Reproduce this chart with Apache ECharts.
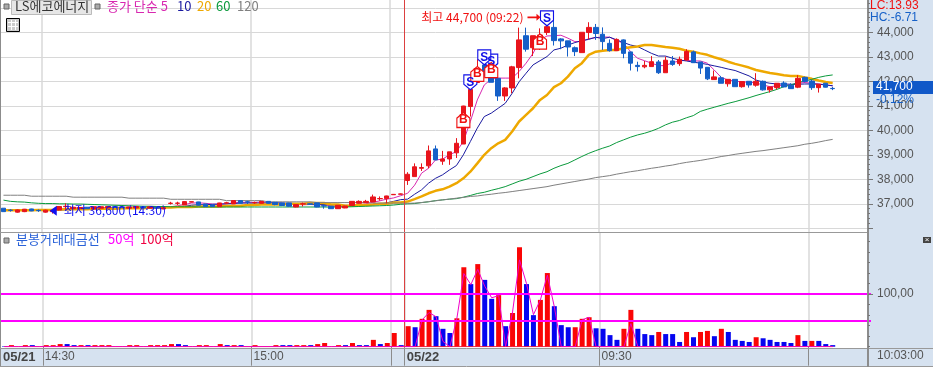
<!DOCTYPE html>
<html><head><meta charset="utf-8">
<style>html,body{margin:0;padding:0;background:#fff}#c{width:933px;height:368px}</style>
<script src="https://cdn.jsdelivr.net/npm/echarts@6/dist/echarts.min.js"></script>
</head><body><div id="c"></div>
<script>
// [open, close, low, high]
const candles = [
[36820,36680,36670,36820],[36740,36730,36680,36780],[36660,36750,36640,36770],[36680,36780,36660,36790],[36790,36710,36700,36800],
[36730,36720,36670,36770],[36660,36740,36640,36760],[36680,36730,36600,36750],[36750,36890,36730,36900],[36880,36900,36750,37020],
[36800,36860,36780,36900],[36800,36850,36780,36860],[36860,36800,36790,36870],[36790,36880,36780,36890],[36820,36880,36810,36890],
[36830,36890,36820,36900],[36880,36850,36840,36890],[36870,36840,36830,36880],[36820,36870,36810,36880],[36830,36890,36820,36900],
[36880,36830,36820,36890],[36820,36880,36810,36890],[36860,36820,36810,36870],[36790,36840,36780,36850],[37015,37025,36970,37080],
[37020,37030,36950,37085],[36955,37090,36950,37100],[37070,37085,37060,37095],[37076,36940,36930,37080],[36995,36885,36880,37000],
[36955,36885,36880,36960],[36885,37035,36880,37040],[37030,37040,36990,37080],[36995,37130,36990,37140],[37130,37020,37010,37140],
[37080,37070,36990,37130],[37040,37050,37000,37090],[37020,37100,37010,37110],[37100,37020,37010,37110],[37060,36970,36940,37070],
[37035,36930,36920,37040],[37035,36900,36890,37040],[36870,36970,36860,36980],[36990,37000,36890,37050],[37000,36980,36960,37020],
[37035,36870,36860,37040],[36920,36910,36800,36970],[36900,36800,36790,36910],[36800,36940,36790,36950],[36830,36910,36820,36920],
[36930,37100,36920,37110],[37020,37100,37010,37140],[37050,37100,37040,37160],[37075,37280,37070,37375],[37205,37215,37130,37300],
[37212,37320,37020,37330],[37370,37385,37360,37400],[37390,37405,37380,37420],
[37950,38206,37770,38290],[38110,38510,38110,38650],[38450,38480,38340,38650],[38550,39160,38450,39380],[39240,38790,38790,39380],
[38740,38830,38590,39160],[38830,39120,38590,39120],[39080,39470,38870,39680],[39440,40990,39440,41000],[40970,41670,40560,42050],
[41950,42530,41950,42900],[42670,42260,42200,42670],[42530,41960,41960,42600],[42120,41400,41200,42120],[41400,41730,41200,41760],
[41730,42590,41510,42630],[42560,43690,42120,44190],[43860,43310,43210,44190],[43370,43860,43030,43860],[43420,43890,43280,44160],
[43990,44230,43890,44700],[44200,43660,43460,44570],[43730,43650,43310,43760],[43650,43400,43010,43650],[43370,43210,43030,43420],
[43170,44000,43170,44000],[43990,44200,43710,44410],[44200,43950,43690,44340],[43920,43620,43280,44200],[43550,43250,43210,43710],
[43250,43710,43250,43750],[43690,43140,42940,43710],[43200,42740,42440,43200],[42650,42600,42400,42800],[42590,42650,42530,42830],
[42600,42800,42600,43030],[42790,42350,42300,42870],[42350,42860,42350,43010],[42830,42690,42630,43030],[42720,42900,42630,43010],
[42870,43220,42840,43310],[43200,42760,42760,43250],[42790,42540,42300,42790],[42570,42100,42050,42570],[42070,42180,42070,42440],
[42140,41920,41920,42220],[41900,42080,41780,42080],[42080,41780,41780,42080],[41780,41990,41740,41990],[42000,41850,41740,42000],
[41840,42000,41780,42330],[42000,41650,41620,42030],[41650,41770,41540,41770],[41740,41920,41670,41920],[41930,41770,41760,42000],
[41840,41700,41700,41920],[41760,42120,41720,42250],[42160,41990,41950,42190],[42010,41740,41650,42060],[41740,41880,41540,41880],
[41920,41760,41750,41930],[41710,41700,41640,41770]];

const ma5 = [
36740,36740,36730,36720,36730,36730,36720,36720,36760,36800,
36830,36840,36830,36830,36840,36850,36860,36860,36860,36860,
36860,36850,36850,36840,36880,36920,36970,37030,37040,37020,
36990,36980,37000,37040,37060,37060,37060,37070,37060,37040,
37020,37000,36970,36960,36970,36960,36950,36920,36880,36890,
36910,36960,37000,37060,37120,37190,37240,37330,
37430,37760,38250,38450,38790,38820,39000,39130,39540,40360,
41240,41850,42090,42130,42130,42130,42400,42740,43140,43690,
43850,43860,43880,43760,43620,43620,43740,43780,43810,43800,
43660,43550,43210,42940,42840,42740,42640,42640,42760,42830,
42860,42830,42830,42740,42460,42160,42050,42010,41970,41970,
41930,41850,41780,41810,41840,41840,41920,41950,41920,41890,
41860,41810];
const ma10 = [
36750,36750,36740,36740,36740,36730,36730,36730,36740,36760,
36780,36790,36780,36790,36810,36820,36840,36840,36850,36850,
36850,36850,36860,36860,36860,36880,36900,36940,36960,36960,
36980,36990,37000,37010,37030,37030,37030,37030,37030,37040,
37030,37020,37010,37000,36990,36970,36970,36960,36950,36930,
36920,36930,36950,36960,36990,37040,37100,37170,
37190,37390,37570,37840,38040,38180,38380,38560,39000,39540,
40090,40560,40700,40900,41100,41510,41980,42330,42670,42840,
43010,43280,43350,43480,43580,43660,43710,43800,43740,43800,
43690,43580,43480,43420,43280,43140,43030,43030,42940,42870,
42830,42780,42740,42690,42630,42570,42500,42440,42330,42220,
42050,41970,41920,41890,41890,41880,41880,41890,41890,41880,
41850,41820];
const ma20 = [
36740,36740,36740,36740,36740,36750,36750,36750,36770,36780,
36780,36780,36780,36800,36800,36800,36800,36820,36820,36820,
36820,36850,36850,36850,36850,36870,36870,36870,36890,36890,
36890,36890,36910,36910,36910,36950,36950,36970,36970,36970,
36970,37000,37000,37000,37030,37030,37030,36970,36970,36920,
36920,36950,36950,36970,37000,37000,37050,37050,
37090,37190,37300,37430,37530,37590,37700,37840,38040,38310,
38650,39000,39270,39470,39610,39950,40360,40630,40900,41240,
41440,41760,41920,42190,42530,42740,43080,43210,43250,43280,
43280,43350,43390,43420,43480,43480,43440,43400,43370,43330,
43250,43210,43140,43080,42980,42900,42800,42710,42640,42560,
42460,42400,42340,42300,42250,42220,42220,42160,42100,42030,
41970,41930];
const ma60 = [
37150,37100,37080,37070,37040,37020,37010,37010,37000,37000,
36990,36990,36980,36970,36960,36950,36940,36930,36920,36910,
36900,36900,36890,36890,36880,36880,36880,36880,36870,36870,
36870,36870,36870,36870,36870,36870,36870,36870,36870,36870,
36870,36870,36870,36870,36870,36870,36870,36870,36870,36870,
36880,36890,36900,36910,36920,36930,36950,36980,
37000,37010,37050,37080,37130,37160,37190,37210,37270,37340,
37420,37470,37550,37620,37700,37810,37920,38000,38110,38220,
38310,38450,38560,38650,38790,38930,39060,39170,39270,39360,
39500,39610,39720,39810,39880,39970,40080,40220,40330,40400,
40510,40600,40770,40860,40940,41020,41100,41170,41250,41330,
41420,41500,41580,41670,41780,41850,41950,42010,42080,42160,
42220,42260];
const ma120 = [
37350,37350,37350,37350,37310,37310,37310,37310,37310,37310,
37270,37270,37270,37270,37270,37270,37270,37270,37230,37230,
37230,37230,37230,37230,37185,37185,37185,37185,37185,37185,
37185,37185,37130,37130,37130,37130,37130,37130,37080,37080,
37080,37080,37080,37080,37080,37050,37050,37050,37050,37050,
37050,37050,37050,37030,37030,37030,37030,37030,
37020,37030,37050,37090,37120,37160,37190,37230,37260,37300,
37320,37360,37390,37430,37460,37500,37540,37580,37620,37660,
37700,37760,37810,37860,37910,37960,38010,38070,38110,38150,
38210,38260,38310,38350,38400,38450,38490,38540,38580,38640,
38690,38730,38770,38820,38870,38930,38970,39020,39060,39100,
39140,39170,39210,39250,39290,39330,39370,39430,39470,39520,
39580,39630];

const amount = [
1,3,0,3,3,0,3,3,5,5, 3,3,3,3,3,3,0,0,3,3,
0,3,3,3,5,5,3,0,3,3, 0,5,3,3,3,0,3,0,0,3,
3,3,3,3,3,5,7,0,3,3, 7,3,3,13,5,7,26,3,
39,37,53,70,58,34,26,54,151,119,157,127,91,98,39,64,189,119,60,89,
140,77,41,37,37,53,56,35,34,22,13,34,70,34,24,22,28,24,24,9,
28,18,28,30,20,34,28,13,11,9,18,16,13,9,9,7,22,11,11,11,5,3];
// 1 = up minute (red bar), 0 = down minute (blue bar)
const amountUp = [
0,1,0,1,0,0,1,1,1,0, 0,1,0,1,1,1,0,0,1,1,
0,1,1,1,1,0,0,0,1,1, 0,1,0,1,0,0,1,0,0,1,
0,0,1,1,0,1,1,0,1,0, 1,0,0,1,0,1,1,0,
1,0,1,1,0,0,0,1,1,0,1,0,0,1,0,1,1,0,0,1,
1,0,0,0,1,1,1,0,0,0,0,1,1,0,0,0,1,0,0,0,
1,0,1,1,0,1,0,0,0,0,1,0,0,0,0,0,1,0,1,0,0,0];
const amountLine = [
0,0,0,0,0,0,0,0,0,0, 0,0,0,0,0,0,0,0,0,0,
0,0,0,0,0,0,0,0,0,0, 0,0,0,0,0,0,0,0,0,0,
0,0,0,0,0,0,0,0,0,0, 0,0,0,0,0,0,0,0,
0,0,51,65,57,10,0,54,139,118,147,115,93,97,0,66,165,120,61,89,
136,76,0,0,0,51,56,0,0,0,0,0,44,0,0,0,0,0,0,0,
0,0,0,0,0,0,0,0,0,0,0,0,0,0,0,0,0,0,0,0,0,0];
const baseLine = amount.map(() => 0);

// 120 minutes plus the empty slots kept on the right of the chart
const slotCount = 125;
const categories = Array.from({length:slotCount}, (_, i) => String(i));
const priceTicks = [36000,37000,38000,39000,40000,41000,42000,43000,44000,45000];
const priceLabels = [37000,38000,39000,40000,41000,42000,43000,44000];
const priceMinorTicks = [];
for (let p = 36000; p <= 45200; p += 200) priceMinorTicks.push(p);
const amountMinorTicks = [0,20,40,60,80,100,120,140,160,180,200];
const amountLevels = [50,100];
const gridPositions = [6,36,56,86,116];
const sessionStart = 58;
const timeTickPositions = [0,6,36,58,86];
const timeTickLabels = ['05/21','14:30','15:00','05/22','09:30'];
const flagIndex = [67,66,68,70,69,70,77,78];
const flagPrice = [41960,40420,42300,42800,42980,42460,43620,44570];
const flagKind  = ['S','B','B','S','S','B','B','S'];
const highMark = [78,44610,'최고 44,700 (09:22)'];
const lowMark  = [7,36720,'최저 36,600 (14:30)'];

const KR = '"Noto Sans CJK KR"', NUM = '"Liberation Sans"';
const RED='#e8141c', BLUE='#1560c8', PANEL='#d6e2f0', GRID='#d8d8d8', EDGE='#8c8c8c';
const W=871, G1={left:0,top:0,width:W,height:232}, G2={left:0,top:232,width:W,height:114.7};
const pMin=35849, pMax=45318, aMin=0, aMax=218;

const hiddenCat = g => ({type:'category',gridIndex:g,data:categories,show:false,boundaryGap:true});
const posAxis = (g,labels) => ({type:'value',gridIndex:g,min:0,max:slotCount,position:'bottom',
  axisLine:{show:false},
  axisTick:{show:labels,length:19,lineStyle:{color:EDGE},customValues:labels?[6,36,56,58,86,116]:gridPositions},
  splitLine:{show:true,lineStyle:{color:GRID,width:1.5}},
  axisLabel:{show:labels,customValues:timeTickPositions,margin:4,align:'left',verticalAlign:'top',
    formatter:v=>{const s=timeTickLabels[timeTickPositions.indexOf(v)]||'';return s.includes('/')?`{d|${s}}`:`{t|${s}}`;},
    rich:{d:{fontFamily:NUM,fontWeight:'bold',fontSize:13,color:'#444',padding:[0,0,0,2]},
          t:{fontFamily:NUM,fontSize:12,color:'#555',padding:[0,0,0,2]}}}
});
const yGrid = (g,min,max,vals,show) => ({type:'value',gridIndex:g,min,max,position:'right',
  axisLine:{show:false},axisLabel:{show:false},axisTick:{show:false,customValues:vals},
  splitLine:{show,lineStyle:{color:GRID,width:1}}});
const yLabels = (g,min,max,tickVals,labelVals,fmt) => ({type:'value',gridIndex:g,min,max,position:'right',offset:-3,z:10,
  axisLine:{show:true,lineStyle:{color:EDGE,width:2}},
  axisTick:{show:true,length:5,customValues:tickVals,lineStyle:{color:'#777'}},
  axisLabel:{show:true,customValues:labelVals,margin:9,fontFamily:NUM,fontSize:12,color:'#555',formatter:fmt},
  splitLine:{show:false}});
const yMinor = (g,min,max,vals) => ({type:'value',gridIndex:g,min,max,position:'right',offset:-3,z:10,
  axisLine:{show:false},axisLabel:{show:false},splitLine:{show:false},
  axisTick:{show:true,length:2,customValues:vals,lineStyle:{color:'#777'}}});

const maLine = (name,data,color,width) => ({name,type:'line',data,xAxisIndex:0,yAxisIndex:0,showSymbol:false,symbol:'none',
  z:2,lineStyle:{color,width},silent:true,animation:false});

const flagPath = {S:'path://M0 0H14V10L7 16L0 10Z',B:'path://M7 0L14 6V16H0V6Z'};
const flagData = flagIndex.map((x,i)=>{
  const k=flagKind[i],c=k==='S'?'#1010e8':'#f01010';
  return {value:[x,flagPrice[i]],symbol:flagPath[k],symbolSize:[13,15],
    itemStyle:{color:'#fff',opacity:1,borderColor:c,borderWidth:1.2},
    label:{show:true,position:'inside',formatter:k,color:c,fontFamily:NUM,fontWeight:'bold',fontSize:12}};
});

const chart = echarts.init(document.getElementById('c'),null,{renderer:'canvas'});
const sessionLine = {silent:true,symbol:'none',label:{show:false},lineStyle:{color:'#dc4040',width:1,type:'solid'},data:[{xAxis:sessionStart}]};
chart.setOption({
  animation:false,backgroundColor:'#fff',
  grid:[G1,G2],
  xAxis:[hiddenCat(0),hiddenCat(1),posAxis(0,false),posAxis(1,true)],
  yAxis:[
    yGrid(0,pMin,pMax,priceTicks,true),
    yLabels(0,pMin,pMax,priceTicks,priceLabels,v=>v.toLocaleString('en-US')),
    yMinor(0,pMin,pMax,priceMinorTicks),
    yGrid(1,aMin,aMax,[100],false),
    yLabels(1,aMin,aMax,[100],[100],v=>'100,00'),
    yMinor(1,aMin,aMax,amountMinorTicks)
  ],
  series:[
    {type:'line',xAxisIndex:2,yAxisIndex:0,data:[],silent:true,markLine:sessionLine},
    {type:'line',xAxisIndex:3,yAxisIndex:3,data:[],silent:true,markLine:sessionLine},
    maLine('5',ma5,'#d828b0',1),
    maLine('10',ma10,'#1a1aa0',1),
    maLine('20',ma20,'#eea800',2.5),
    maLine('60',ma60,'#0a9a3c',1),
    maLine('120',ma120,'#808080',1),
    {type:'candlestick',xAxisIndex:0,yAxisIndex:0,data:candles,barWidth:5,z:3,
     itemStyle:{color:RED,color0:BLUE,borderColor:RED,borderColor0:BLUE,borderWidth:1}},
    {type:'scatter',xAxisIndex:0,yAxisIndex:0,data:flagData,z:4,silent:true},
    {type:'scatter',xAxisIndex:0,yAxisIndex:0,z:4,silent:true,
     data:[{value:highMark.slice(0,2),symbol:'path://M0 3H9V0L13 4L9 8V5H0Z',symbolSize:[13,7],symbolOffset:[-13,0],
            itemStyle:{color:'#f01010',opacity:1},
            label:{show:true,position:'left',distance:4,formatter:highMark[2],color:'#f01010',fontFamily:KR,fontSize:12}},
           {value:lowMark.slice(0,2),symbol:'path://M7 0V10L0 5Z',symbolSize:[7,10],symbolOffset:[1,0],
            itemStyle:{color:'#1010f0',opacity:1},
            label:{show:true,position:'right',distance:7,formatter:lowMark[2],color:'#1010f0',fontFamily:KR,fontSize:12}}]},
    {type:'bar',xAxisIndex:1,yAxisIndex:3,barWidth:5,z:2,
     data:amount.map((v,i)=>({value:v,itemStyle:{color:amountUp[i]?'#fa0505':'#0505f0'}}))},
    {type:'line',xAxisIndex:1,yAxisIndex:3,data:baseLine,symbol:'none',z:3,lineStyle:{color:'#f01030',width:1},silent:true},
    {type:'line',xAxisIndex:1,yAxisIndex:3,data:amountLine,symbol:'none',z:4,lineStyle:{color:'#f000c8',width:1},silent:true,
     markLine:{silent:true,symbol:'none',label:{show:false},lineStyle:{color:'#ff00ff',width:2,type:'solid'},
       data:amountLevels.map(v=>({yAxis:v}))}}
  ],
  graphic:[
    {type:'rect',shape:{x:868,y:0,width:65,height:368},style:{fill:PANEL},z:5,silent:true},
    {type:'rect',shape:{x:0,y:348,width:868,height:18},style:{fill:PANEL},z:-1,silent:true},
    {type:'rect',shape:{x:0,y:366,width:933,height:2},style:{fill:'#fff'},z:6,silent:true},
    {type:'line',shape:{x1:0.5,y1:0,x2:0.5,y2:367},style:{stroke:EDGE,lineWidth:1},z:6},
    {type:'line',shape:{x1:0,y1:232.5,x2:868,y2:232.5},style:{stroke:'#999',lineWidth:1},z:6},
    {type:'line',shape:{x1:0,y1:348.5,x2:933,y2:348.5},style:{stroke:'#999',lineWidth:1},z:6},
    {type:'line',shape:{x1:0,y1:366.5,x2:933,y2:366.5},style:{stroke:'#999',lineWidth:1},z:6},
    {type:'line',shape:{x1:868,y1:0,x2:868,y2:367},style:{stroke:EDGE,lineWidth:2},z:6},
    {type:'rect',shape:{x:4,y:4,width:5,height:5},style:{fill:'#aaa',stroke:'#666',lineWidth:1},z:8},
    {type:'rect',shape:{x:11.5,y:0.5,width:80,height:14},style:{fill:'#e6e6e6',stroke:'#bbb',lineWidth:1},z:8},
    {type:'text',x:15,y:0,style:{text:'LS에코에너지',fontFamily:KR,fontSize:13,fill:'#333',textVerticalAlign:'top'},z:9},
    {type:'rect',shape:{x:95,y:4,width:5,height:5},style:{fill:'#aaa',stroke:'#666',lineWidth:1},z:8},
    {type:'text',x:107,y:0,style:{text:'종가 단순 5',fontFamily:KR,fontSize:13,fill:'#d828b0',textVerticalAlign:'top'},z:9},
    {type:'text',x:177,y:0,style:{text:'10',fontFamily:KR,fontSize:13,fill:'#1a1aa0',textVerticalAlign:'top'},z:9},
    {type:'text',x:197,y:0,style:{text:'20',fontFamily:KR,fontSize:13,fill:'#eea800',textVerticalAlign:'top'},z:9},
    {type:'text',x:216,y:0,style:{text:'60',fontFamily:KR,fontSize:13,fill:'#0a9a3c',textVerticalAlign:'top'},z:9},
    {type:'text',x:237,y:0,style:{text:'120',fontFamily:KR,fontSize:13,fill:'#808080',textVerticalAlign:'top'},z:9},
    {type:'rect',shape:{x:6.5,y:18.5,width:13,height:13},style:{fill:'#ccc',stroke:'#000',lineWidth:1},z:8},
    {type:'line',shape:{x1:8,y1:22.5,x2:18,y2:22.5},style:{stroke:'#fff',lineWidth:1},z:9},
    {type:'line',shape:{x1:8,y1:26.5,x2:18,y2:26.5},style:{stroke:'#fff',lineWidth:1},z:9},
    {type:'line',shape:{x1:11.5,y1:20,x2:11.5,y2:30},style:{stroke:'#fff',lineWidth:1},z:9},
    {type:'line',shape:{x1:15.5,y1:20,x2:15.5,y2:30},style:{stroke:'#fff',lineWidth:1},z:9},
    {type:'rect',shape:{x:4,y:238,width:5,height:5},style:{fill:'#aaa',stroke:'#666',lineWidth:1},z:8},
    {type:'text',x:16,y:233,style:{text:'분봉거래대금선',fontFamily:KR,fontSize:13,fill:'#2a62d8',textVerticalAlign:'top'},z:9},
    {type:'text',x:108,y:233,style:{text:'50억',fontFamily:KR,fontSize:13,fill:'#ff00ff',textVerticalAlign:'top'},z:9},
    {type:'text',x:140,y:233,style:{text:'100억',fontFamily:KR,fontSize:13,fill:'#f00040',textVerticalAlign:'top'},z:9},
    {type:'text',x:870,y:0,style:{text:'LC:13.93',fontFamily:NUM,fontSize:12,fill:'#f01010',textVerticalAlign:'top'},z:12},
    {type:'text',x:870,y:12,style:{text:'HC:-6.71',fontFamily:NUM,fontSize:12,fill:'#1560c8',textVerticalAlign:'top'},z:12},
    {type:'rect',shape:{x:873,y:81,width:60,height:13},style:{fill:'#1058c8'},z:12},
    {type:'text',x:876,y:81,style:{text:'41,700',fontFamily:NUM,fontSize:12,fill:'#fff',textVerticalAlign:'top'},z:13},
    {type:'text',x:876,y:94,style:{text:'-0.12%',fontFamily:NUM,fontSize:12,fill:'#1560c8',textVerticalAlign:'top'},z:13},
    {type:'text',x:877,y:350,style:{text:'10:03:00',fontFamily:NUM,fontSize:12,fill:'#555',textVerticalAlign:'top'},z:12},
    {type:'rect',shape:{x:923,y:237,width:8,height:6},style:{fill:'#444'},z:12},
    {type:'text',x:927,y:240,style:{text:'×',fontFamily:NUM,fontSize:8,fill:'#fff',textAlign:'center',textVerticalAlign:'middle'},z:13}
  ]
});
</script></body></html>
